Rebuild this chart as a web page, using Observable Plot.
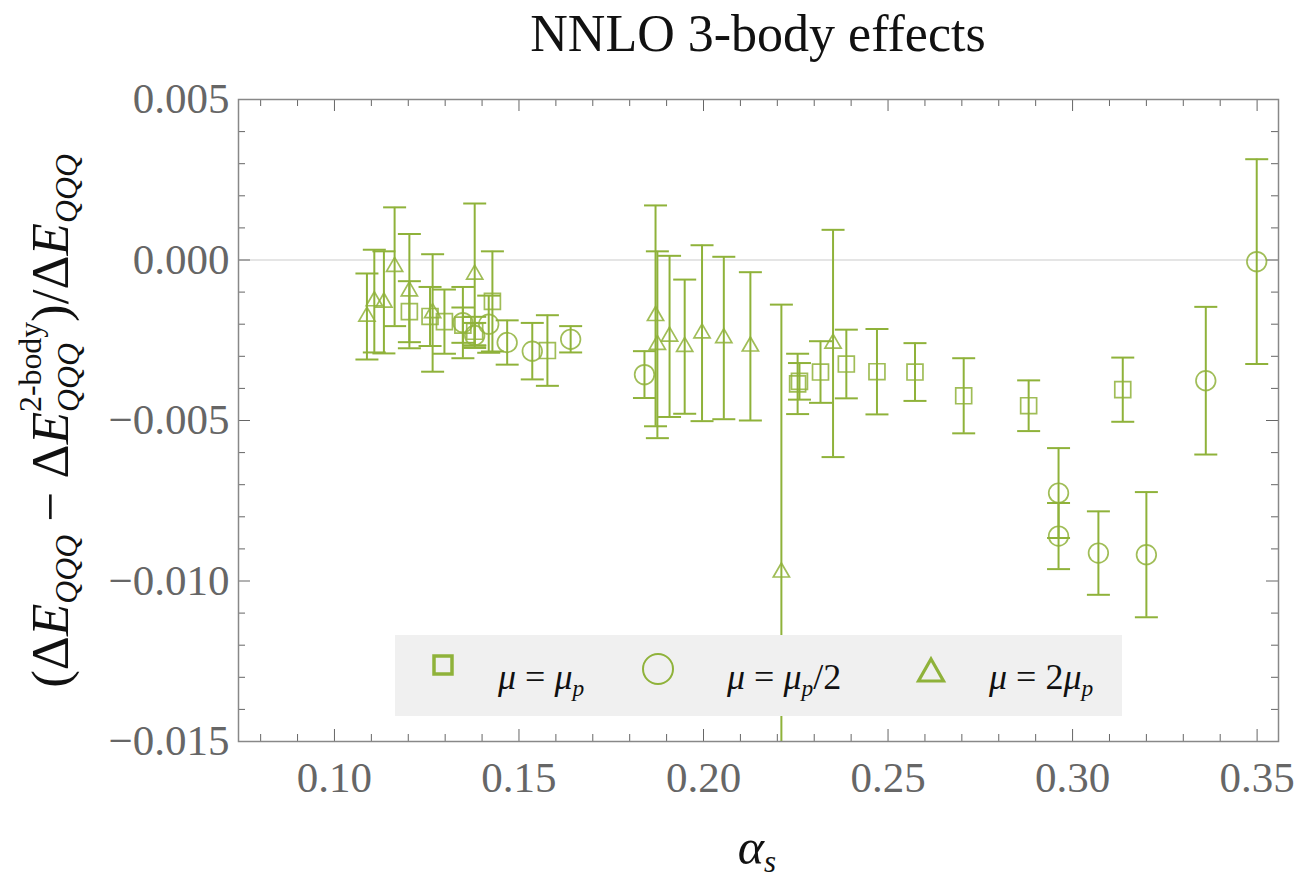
<!DOCTYPE html>
<html>
<head>
<meta charset="utf-8">
<script src="https://cdn.jsdelivr.net/npm/d3@7"></script>
<script src="https://cdn.jsdelivr.net/npm/@observablehq/plot@0.6"></script>
<style>
  html, body { margin: 0; padding: 0; background: #fff; }
  #wrap { position: relative; width: 1303px; height: 887px; overflow: hidden; font-family: "Liberation Serif", serif; }
  #wrap svg { position: absolute; left: 0; top: 0; }
  .title { position: absolute; left: 758px; top: 50px; transform: translate(-50%, -80%); font-size: 52px; color: #111; white-space: nowrap; line-height: 1; }
  .xlab { position: absolute; left: 757px; top: 866px; transform: translate(-50%, -80%); font-size: 50px; font-style: italic; color: #111; white-space: nowrap; line-height: 1; }
  .xlab sub { font-size: 0.62em; vertical-align: -0.25em; }
  .ylab { position: absolute; left: 50px; top: 421px; transform: translate(-50%, -50%) rotate(-90deg); font-size: 53px; color: #111; white-space: nowrap; line-height: 1; }
  .ylab i { font-style: italic; }
  .ylab .sb { font-size: 0.6em; font-style: italic; vertical-align: -0.3em; }
  .stack { display: inline-flex; flex-direction: column; font-size: 0.6em; line-height: 1.2; vertical-align: 0.85em; }
  .stack .up { font-style: normal; }
  .stack .dn { font-style: italic; }
  .legend { position: absolute; left: 395px; top: 635px; width: 727px; height: 81px; background: #f0f0f0; }
  .lg { position: absolute; font-size: 36px; font-style: italic; color: #111; white-space: nowrap; line-height: 1; }
  .lg sub { font-size: 0.65em; vertical-align: -0.3em; }
  .lg .u { font-style: normal; }
  .lsym { position: absolute; }
</style>
</head>
<body>
<div id="wrap"></div>
<script>
// μ = μp  (squares)
const sqA = [0.1203, 0.1259, 0.1298, 0.1348, 0.1380, 0.1428, 0.1577, 0.2255, 0.2260, 0.2317, 0.2387, 0.2470, 0.2573, 0.2705, 0.2881, 0.3136];
const sqV = [-0.00161, -0.00176, -0.00192, -0.00203, -0.00222, -0.00129, -0.00282, -0.00386, -0.00378, -0.00349, -0.00324, -0.00348, -0.00349, -0.00423, -0.00454, -0.00404];
const sqE = [0.00095, 0.00092, 0.00100, 0.00055, 0.00045, 0.00156, 0.00110, 0.00094, 0.00057, 0.00096, 0.00107, 0.00133, 0.00090, 0.00117, 0.00079, 0.00100];
// μ = μp/2  (circles)
const ciA = [0.1348, 0.1380, 0.1418, 0.1468, 0.1536, 0.1640, 0.1840, 0.2962, 0.2962, 0.3070, 0.3200, 0.3361, 0.3499];
const ciV = [-0.00195, -0.00235, -0.00200, -0.00257, -0.00284, -0.00247, -0.00357, -0.00726, -0.00860, -0.00913, -0.00918, -0.00376, -0.00005];
const ciE = [0.00111, 0.00039, 0.00089, 0.00069, 0.00088, 0.00041, 0.00073, 0.00140, 0.00103, 0.00130, 0.00195, 0.00230, 0.00319];
// μ = 2μp  (triangles)
const trA = [0.1088, 0.1108, 0.1134, 0.1163, 0.1203, 0.1266, 0.1380, 0.1870, 0.1875, 0.1908, 0.1949, 0.1996, 0.2055, 0.2127, 0.2211, 0.2351];
const trV = [-0.00176, -0.00128, -0.00132, -0.00021, -0.00097, -0.00165, -0.00045, -0.00174, -0.00264, -0.00238, -0.00270, -0.00228, -0.00243, -0.00269, -0.00973, -0.00260];
const trE = [0.00134, 0.00160, 0.00159, 0.00185, 0.00178, 0.00183, 0.00221, 0.00344, 0.00291, 0.00251, 0.00209, 0.00274, 0.00253, 0.00231, 0.00834, 0.00354];

const xMajor = [0.10, 0.15, 0.20, 0.25, 0.30, 0.35];
const xMinor = [0.08, 0.09, 0.11, 0.12, 0.13, 0.14, 0.16, 0.17, 0.18, 0.19, 0.21, 0.22, 0.23, 0.24, 0.26, 0.27, 0.28, 0.29, 0.31, 0.32, 0.33, 0.34];
const yMajor = [0.005, 0.000, -0.005, -0.010, -0.015];
const yMinor = [0.004, 0.003, 0.002, 0.001, -0.001, -0.002, -0.003, -0.004, -0.006, -0.007, -0.008, -0.009, -0.011, -0.012, -0.013, -0.014];

const xDomain = [0.074, 0.3558];
const yDomain = [-0.015, 0.005];
const green = "#8fb23a";

function rows(A, V, E, s) { return A.map((a, i) => ({a, v: V[i], e: E[i], s})); }
const data = [...rows(sqA, sqV, sqE, "sq"), ...rows(ciA, ciV, ciE, "ci"), ...rows(trA, trV, trE, "tr")];
const caps = [];
for (const d of data) {
  for (const y of [d.v - d.e, d.v + d.e]) if (y >= yDomain[0] && y <= yDomain[1]) caps.push({a: d.a, y});
}
const capSymbol = { draw(ctx) { ctx.moveTo(-11.5, 0); ctx.lineTo(11.5, 0); } };

const W = 1303, H = 887, mL = 238, mR = 25, mT = 99, mB = 146;
const fw = W - mL - mR, fh = H - mT - mB;
const tickColor = "#666";

const plot = Plot.plot({
  width: W, height: H,
  marginLeft: mL, marginRight: mR, marginTop: mT, marginBottom: mB,
  style: { fontFamily: "Liberation Serif, serif", fontSize: "43px", color: "#666", background: "transparent", overflow: "visible" },
  x: { domain: xDomain },
  y: { domain: yDomain },
  marks: [
    Plot.ruleY([0], { stroke: "#dcdcdc", strokeWidth: 1.3 }),
    // inward frame ticks
    Plot.tickX(xMajor, { x: d => d, insetTop: fh - 12, stroke: tickColor, strokeWidth: 1 }),
    Plot.tickX(xMinor, { x: d => d, insetTop: fh - 7, stroke: tickColor, strokeWidth: 1 }),
    Plot.tickX(xMajor, { x: d => d, insetBottom: fh - 12, stroke: tickColor, strokeWidth: 1 }),
    Plot.tickX(xMinor, { x: d => d, insetBottom: fh - 7, stroke: tickColor, strokeWidth: 1 }),
    Plot.tickY(yMajor, { y: d => d, insetRight: fw - 12, stroke: tickColor, strokeWidth: 1 }),
    Plot.tickY(yMinor, { y: d => d, insetRight: fw - 7, stroke: tickColor, strokeWidth: 1 }),
    Plot.tickY(yMajor, { y: d => d, insetLeft: fw - 12, stroke: tickColor, strokeWidth: 1 }),
    Plot.tickY(yMinor, { y: d => d, insetLeft: fw - 7, stroke: tickColor, strokeWidth: 1 }),
    Plot.axisX({ ticks: xMajor, tickSize: 0, tickPadding: 20, tickFormat: d3.format(".2f"), label: null }),
    Plot.axisY({ ticks: yMajor, tickSize: 0, tickPadding: 9, tickFormat: d3.format(".3f"), label: null }),
    // error bars
    Plot.ruleX(data, { x: "a", y1: d => Math.max(d.v - d.e, yDomain[0]), y2: d => Math.min(d.v + d.e, yDomain[1]), stroke: green, strokeWidth: 2 }),
    Plot.dot(caps, { x: "a", y: "y", symbol: capSymbol, r: 1, stroke: green, strokeWidth: 2, fill: "none" }),
    // markers
    Plot.dot(data.filter(d => d.s === "sq"), { x: "a", y: "v", symbol: "square", r: 9, stroke: green, strokeOpacity: 0.85, strokeWidth: 1.7, fill: "none" }),
    Plot.dot(data.filter(d => d.s === "ci"), { x: "a", y: "v", symbol: "circle", r: 9.8, stroke: green, strokeOpacity: 0.85, strokeWidth: 1.7, fill: "none" }),
    Plot.dot(data.filter(d => d.s === "tr"), { x: "a", y: "v", symbol: "triangle", r: 6, stroke: green, strokeOpacity: 0.85, strokeWidth: 1.7, fill: "none" }),
    Plot.frame({ stroke: "#888", strokeWidth: 1.5 })
  ]
});

const wrap = document.getElementById("wrap");
wrap.appendChild(plot);
wrap.insertAdjacentHTML("beforeend", `
  <div class="title">NNLO 3-body effects</div>
  <div class="xlab">α<sub>s</sub></div>
  <div class="ylab">(Δ<i>E</i><span class="sb">QQQ</span> − Δ<i>E</i><span class="stack"><span class="up">2-body</span><span class="dn">QQQ</span></span>)/Δ<i>E</i><span class="sb">QQQ</span></div>
  <div class="legend"></div>
  <svg class="lsym" style="left:427px;top:649px" width="32" height="32"><rect x="7" y="7" width="18" height="18" fill="none" stroke="${green}" stroke-width="3.5"/></svg>
  <svg class="lsym" style="left:638px;top:649px" width="40" height="40"><circle cx="20" cy="20" r="15" fill="none" stroke="${green}" stroke-width="2"/></svg>
  <svg class="lsym" style="left:911px;top:652px" width="40" height="40"><path d="M20,7 L32.5,29 L7.5,29 Z" fill="none" stroke="${green}" stroke-width="3.2" stroke-linejoin="miter"/></svg>
  <div class="lg" style="left:498px;top:692px;transform:translateY(-80%)">μ <span class="u">=</span> μ<sub>p</sub></div>
  <div class="lg" style="left:727px;top:692px;transform:translateY(-80%)">μ <span class="u">=</span> μ<sub>p</sub><span class="u">/2</span></div>
  <div class="lg" style="left:989px;top:692px;transform:translateY(-80%)">μ <span class="u">=</span> <span class="u">2</span>μ<sub>p</sub></div>
`);
</script>
</body>
</html>
